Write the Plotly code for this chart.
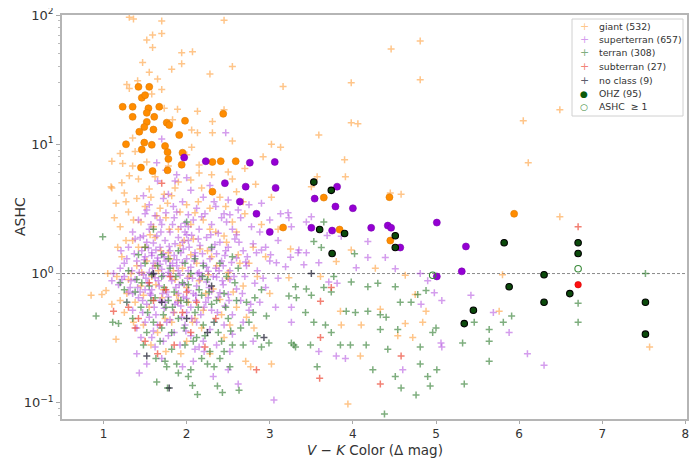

# ASHC vs V-K colour scatter, log y
import plotly.graph_objects as go

# ---- small '+' markers, one list of (V-K, ASHC) per class ----
giant = [
    (1.31, 96), (1.36, 93), (1.70, 90), (2.45, 91), (1.59, 70), (1.70, 72), (1.52, 64), (1.59, 56),
    (1.94, 51), (2.07, 52), (1.47, 43), (1.94, 42), (1.82, 38), (1.55, 36), (2.28, 35), (2.55, 40),
    (1.65, 32), (1.41, 31), (1.28, 29), (1.31, 27), (1.70, 26.5), (3.16, 28), (1.58, 24.5), (1.73, 19),
    (1.89, 18.7), (2.13, 18), (2.45, 18.5), (1.83, 15.5), (2.06, 12.9), (2.31, 15), (2.31, 12.3),
    (1.35, 11.2), (2.13, 12.3), (2.06, 9.5), (2.55, 10.6), (3.02, 10), (3.13, 9.5), (2.92, 8.0),
    (1.10, 7.4), (1.23, 7.1), (1.35, 6.8), (1.52, 7.3), (2.15, 6.9), (1.31, 5.7), (2.15, 6.0),
    (1.22, 5.05), (2.55, 5.4), (2.83, 4.9), (1.09, 4.7), (1.15, 3.5), (1.27, 3.6), (1.73, 4.1),
    (2.14, 3.6), (3.02, 3.9), (1.10, 4.6), (1.13, 2.7),
    (4.46, 54.6), (4.81, 63), (3.98, 29.9), (4.81, 31.5), (3.98, 14.7), (4.06, 14.4), (3.59, 11.8),
    (6.05, 15.2), (6.49, 18.5), (6.11, 7.2), (6.49, 2.75), (7.57, 0.27), (5.76, 0.51), (5.80, 0.98),
    (3.90, 7.6), (3.91, 5.6), (3.57, 5.6), (3.50, 4.7), (4.45, 4.2), (4.58, 4.1),
    (3.98, 1.52), (3.80, 1.24), (3.61, 0.95), (4.63, 0.97), (4.75, 0.69), (3.85, 0.51), (3.86, 0.40),
    (4.10, 0.40), (4.33, 0.53), (4.63, 0.41), (4.84, 0.42), (4.88, 0.51), (4.54, 0.33), (4.72, 0.32),
    (4.09, 0.23), (3.94, 0.098), (4.27, 1.1), (3.23, 0.93), (2.71, 0.21), (2.77, 0.19), (3.02, 0.2),
    (2.81, 0.38), (0.85, 0.68), (0.98, 0.69), (1.03, 0.74), (1.15, 0.31), (1.10, 0.58),
    (1.25, 4.2), (1.40, 3.8), (1.55, 4.5), (1.68, 3.2), (1.82, 4.0), (2.00, 3.4), (2.18, 4.6),
    (2.40, 3.9), (2.60, 4.3), (1.30, 3.0), (1.45, 2.5), (1.60, 2.3), (1.75, 2.7), (1.90, 2.2),
    (2.05, 2.4), (2.20, 2.6), (2.35, 2.1), (2.55, 2.5), (2.70, 2.9), (2.90, 2.4), (1.35, 1.8),
    (1.50, 1.6), (1.62, 1.9), (1.78, 1.45), (1.92, 1.65), (2.08, 1.85), (2.25, 1.5), (2.45, 1.95),
    (2.62, 1.4), (2.80, 1.6), (1.22, 1.35), (1.40, 1.15), (1.52, 1.25), (1.66, 1.05), (1.80, 1.3),
    (1.95, 1.1), (2.12, 1.2), (2.30, 1.35), (2.50, 1.02), (2.75, 1.2), (1.30, 0.9), (1.45, 0.8),
    (1.58, 0.95), (1.72, 0.75), (1.86, 0.9), (2.00, 0.78), (2.15, 0.88), (2.32, 0.76), (2.50, 0.92),
    (2.68, 0.8), (1.38, 0.6), (1.55, 0.55), (1.70, 0.65), (1.85, 0.5), (2.02, 0.6), (2.20, 0.52),
    (2.40, 0.63), (2.60, 0.55), (1.48, 0.4), (1.65, 0.35), (1.82, 0.42), (2.00, 0.3), (2.18, 0.38),
    (2.45, 0.32), (1.75, 0.25), (2.28, 0.24), (1.20, 0.62), (1.28, 0.7), (2.85, 0.95), (3.00, 0.7),
    (1.05, 1.0), (2.60, 2.1), (2.95, 1.35), (3.10, 2.2), (3.25, 1.55), (1.42, 5.4), (1.90, 5.1),
    (2.50, 6.1), (1.20, 8.5), (1.62, 1.15), (1.88, 0.68), (2.26, 0.98), (1.46, 1.02), (2.05, 1.4),
    (1.33, 1.0), (1.42, 1.6), (1.48, 0.68), (1.56, 2.0), (1.63, 0.82), (1.69, 1.5), (1.74, 0.45),
    (1.79, 2.2), (1.84, 1.05), (1.90, 0.62), (1.97, 1.8), (2.03, 0.95), (2.10, 0.45), (2.16, 1.55),
    (2.23, 0.7), (2.28, 2.2), (2.36, 1.15), (2.42, 0.48), (2.48, 1.75), (2.56, 0.72), (2.64, 1.2),
    (2.72, 0.46), (1.27, 1.8), (1.36, 2.6), (1.50, 3.3), (1.64, 2.8), (1.77, 3.5), (1.92, 3.0),
    (2.10, 2.95), (2.28, 3.2), (2.47, 3.3), (2.68, 3.6), (1.20, 2.3), (1.17, 1.6), (1.16, 0.95),
    (1.25, 0.5), (1.36, 0.42), (1.57, 0.28), (1.93, 0.24), (2.07, 0.42), (2.52, 0.4), (1.62, 5.6),
    (1.78, 6.8), (2.05, 5.3), (2.30, 5.8), (1.38, 8.8), (2.00, 8.3), (2.70, 6.5), (1.86, 4.6),
    (1.57, 3.9),
]

superterran = [
    (1.65, 5.2), (1.78, 4.1), (1.95, 3.6), (2.05, 4.4), (2.20, 3.9), (2.35, 3.3), (2.50, 3.7),
    (2.62, 3.1), (1.55, 3.4), (1.88, 3.0), (2.12, 3.2), (2.75, 3.4), (1.72, 3.8), (2.28, 4.8),
    (2.45, 2.9), (1.48, 4.0), (2.90, 3.5),
    (1.42, 2.6), (1.55, 2.2), (1.62, 2.8), (1.70, 2.4), (1.80, 2.1), (1.85, 2.7), (1.93, 2.3),
    (2.00, 2.0), (2.08, 2.6), (2.15, 2.2), (2.22, 2.9), (2.30, 2.4), (2.38, 2.05), (2.48, 2.5),
    (2.55, 2.2), (2.65, 2.7), (2.78, 2.3), (2.88, 2.1), (1.35, 2.1), (1.50, 2.9), (2.02, 2.85),
    (1.98, 2.45), (2.60, 2.0), (3.00, 2.6), (1.75, 2.95), (2.42, 2.7),
    (1.30, 1.6), (1.38, 1.85), (1.46, 1.5), (1.52, 1.75), (1.58, 1.45), (1.64, 1.95), (1.68, 1.6),
    (1.74, 1.8), (1.80, 1.5), (1.86, 1.7), (1.90, 1.9), (1.96, 1.55), (2.02, 1.8), (2.10, 1.45),
    (2.16, 1.65), (2.24, 1.9), (2.30, 1.55), (2.40, 1.75), (2.50, 1.6), (2.58, 1.85), (2.68, 1.5),
    (2.80, 1.7), (2.95, 1.6), (3.10, 1.8), (1.72, 1.42), (2.06, 1.98), (1.48, 1.95), (2.36, 1.42),
    (1.60, 1.72), (1.95, 1.75),
    (1.20, 1.1), (1.28, 1.3), (1.34, 1.05), (1.40, 1.25), (1.45, 1.15), (1.50, 1.35), (1.55, 1.02),
    (1.60, 1.2), (1.65, 1.32), (1.70, 1.08), (1.75, 1.25), (1.80, 1.15), (1.85, 1.38), (1.90, 1.05),
    (1.95, 1.22), (2.00, 1.3), (2.05, 1.12), (2.10, 1.36), (2.15, 1.02), (2.20, 1.2), (2.28, 1.3),
    (2.35, 1.1), (2.42, 1.25), (2.52, 1.05), (2.60, 1.32), (2.72, 1.15), (2.85, 1.05), (3.00, 1.25),
    (1.58, 1.38), (1.78, 1.02), (2.02, 1.05), (2.26, 1.04), (1.43, 1.02), (2.46, 1.38), (1.68, 1.18),
    (1.88, 1.28),
    (1.18, 0.82), (1.25, 0.95), (1.32, 0.78), (1.38, 0.9), (1.44, 0.72), (1.48, 0.98), (1.53, 0.85),
    (1.58, 0.75), (1.62, 0.93), (1.67, 0.8), (1.72, 0.96), (1.76, 0.72), (1.82, 0.88), (1.87, 0.78),
    (1.92, 0.97), (1.97, 0.83), (2.02, 0.74), (2.07, 0.92), (2.12, 0.8), (2.18, 0.96), (2.24, 0.86),
    (2.30, 0.73), (2.36, 0.94), (2.44, 0.82), (2.52, 0.9), (2.60, 0.76), (2.70, 0.95), (2.82, 0.84),
    (2.95, 0.78), (3.10, 0.92), (1.35, 0.7), (1.90, 0.7), (2.40, 0.71), (1.60, 0.99),
    (1.28, 0.6), (1.35, 0.52), (1.42, 0.65), (1.47, 0.5), (1.52, 0.58), (1.57, 0.68), (1.63, 0.48),
    (1.68, 0.62), (1.73, 0.54), (1.78, 0.66), (1.84, 0.5), (1.89, 0.6), (1.94, 0.46), (2.00, 0.64),
    (2.05, 0.55), (2.11, 0.68), (2.17, 0.48), (2.23, 0.6), (2.30, 0.52), (2.38, 0.66), (2.46, 0.56),
    (2.55, 0.48), (2.65, 0.62), (2.75, 0.52), (2.88, 0.6), (1.55, 0.46), (2.00, 0.5), (2.50, 0.69),
    (1.40, 0.38), (1.50, 0.42), (1.58, 0.32), (1.65, 0.4), (1.72, 0.3), (1.80, 0.44), (1.85, 0.35),
    (1.92, 0.28), (1.98, 0.4), (2.05, 0.33), (2.12, 0.42), (2.20, 0.3), (2.28, 0.37), (2.36, 0.28),
    (2.45, 0.4), (2.55, 0.34), (2.68, 0.42), (2.80, 0.3), (1.62, 0.27), (2.10, 0.26),
    (1.52, 0.2), (1.70, 0.22), (1.95, 0.19), (2.08, 0.21), (2.32, 0.16), (2.50, 0.18), (2.62, 0.14),
    (3.05, 0.105), (1.43, 0.17), (1.40, 0.24), (2.21, 0.25), (1.21, 1.5), (1.12, 1.0), (1.10, 0.88),
    (1.70, 11), (2.47, 12.3), (1.88, 5.8), (1.64, 7.2), (1.86, 5.2), (1.75, 6.3), (2.00, 5.5),
    (3.26, 2.3), (3.44, 2.5), (3.50, 2.75), (3.69, 1.97), (3.86, 1.94), (4.18, 1.77), (4.18, 1.33),
    (4.04, 1.11), (4.39, 1.33), (4.51, 1.09), (4.81, 1.0), (4.90, 0.88), (4.98, 0.71), (5.07, 0.62),
    (4.82, 0.58), (5.42, 0.68), (5.69, 0.50), (5.88, 0.35), (5.06, 0.29), (5.07, 0.27), (4.60, 0.18),
    (3.91, 0.22), (3.80, 0.23), (3.59, 0.25), (3.26, 0.42), (3.26, 0.55), (3.71, 0.86), (3.81, 0.84),
    (3.59, 1.21), (3.41, 1.17), (3.35, 1.52), (3.25, 1.34), (6.10, 0.24), (6.30, 0.195), (3.13, 2.9),
    (3.22, 2.95), (3.23, 2.7), (3.34, 1.45), (3.44, 1.45), (3.08, 1.21), (3.19, 1.13), (2.71, 1.23),
    (2.90, 1.52), (3.01, 1.40), (3.07, 0.55),
    (1.33, 0.88), (1.37, 1.42), (1.41, 0.78), (1.44, 1.9), (1.47, 0.62), (1.49, 1.28), (1.51, 0.92),
    (1.54, 1.58), (1.56, 0.7), (1.59, 1.1), (1.61, 0.55), (1.63, 1.52), (1.66, 0.88), (1.69, 2.1),
    (1.71, 0.7), (1.73, 1.35), (1.76, 0.42), (1.79, 1.62), (1.81, 0.95), (1.83, 2.4), (1.86, 0.58),
    (1.88, 1.15), (1.91, 0.82), (1.93, 1.45), (1.96, 0.66), (1.98, 2.1), (2.01, 0.92), (2.03, 1.6),
    (2.06, 0.45), (2.09, 1.25), (2.11, 0.62), (2.14, 1.85), (2.16, 0.9), (2.19, 1.42), (2.21, 0.55),
    (2.24, 1.12), (2.27, 0.78), (2.29, 2.0), (2.32, 0.95), (2.34, 1.68), (2.37, 0.5), (2.39, 1.05),
    (2.43, 0.88), (2.47, 1.5), (2.51, 0.62), (2.54, 1.22), (2.57, 0.95), (2.63, 1.75), (2.67, 0.7),
    (2.73, 1.35), (2.77, 0.58), (2.84, 1.45), (2.92, 0.92), (1.45, 0.32), (1.60, 0.36), (1.78, 0.33),
    (1.99, 0.36), (2.15, 0.27), (2.33, 0.42), (2.52, 0.25), (1.30, 0.72), (1.25, 1.2), (1.22, 0.9),
    (1.52, 3.1), (1.68, 2.6), (1.84, 3.3), (2.02, 2.3), (2.18, 2.75), (2.33, 3.6), (2.52, 2.85),
    (1.74, 0.6), (1.93, 0.56), (2.13, 1.0), (2.26, 0.65), (1.50, 0.75), (1.65, 1.25), (1.83, 1.2),
    (2.08, 0.7), (2.44, 1.15), (1.57, 2.4),
]

terran = [
    (1.30, 1.05), (1.40, 0.9), (1.50, 1.2), (1.55, 0.8), (1.62, 0.65), (1.70, 0.95), (1.75, 0.55),
    (1.80, 1.1), (1.85, 0.72), (1.90, 0.45), (1.95, 0.85), (2.00, 0.6), (2.05, 1.0), (2.10, 0.5),
    (2.15, 0.75), (2.20, 0.4), (2.25, 0.9), (2.30, 0.58), (2.38, 0.35), (2.45, 0.7), (2.50, 0.45),
    (2.58, 0.85), (2.65, 0.38), (2.72, 0.6), (2.80, 0.5), (2.90, 0.75), (1.45, 0.55), (1.60, 0.42),
    (1.68, 0.3), (1.82, 0.35), (1.98, 0.28), (2.12, 0.32), (2.28, 0.25), (2.40, 0.22), (2.55, 0.28),
    (1.35, 0.45), (1.50, 1.6), (1.70, 1.4), (1.90, 1.5), (2.10, 1.3), (2.30, 1.6), (1.60, 2.2),
    (2.00, 2.5), (2.40, 1.2), (1.78, 0.62), (2.18, 0.68), (1.52, 0.35), (2.62, 1.1), (2.85, 0.33),
    (1.25, 0.75), (1.42, 1.4), (2.48, 0.95), (1.88, 0.2), (2.05, 0.18), (1.58, 0.98), (1.72, 0.48),
    (1.64, 0.145), (1.77, 0.13), (1.90, 0.17), (2.02, 0.16), (2.25, 0.2), (2.37, 0.135), (2.43, 0.12),
    (2.63, 0.125), (2.13, 0.116), (2.07, 0.136), (1.76, 0.19), (2.45, 0.25), (2.90, 0.27), (2.99, 0.29),
    (2.96, 0.47), (3.29, 0.28), (3.23, 0.67), (3.32, 0.65), (1.74, 0.21),
    (0.99, 1.93), (0.91, 0.47), (1.11, 0.42), (1.18, 0.41),
    (3.31, 0.79), (3.44, 0.76), (3.50, 0.68), (3.65, 0.78), (3.74, 0.72), (3.98, 0.86), (4.18, 0.79),
    (4.30, 0.84), (4.51, 0.79), (4.57, 0.6), (4.70, 0.6), (4.78, 0.69), (4.88, 0.74), (3.43, 0.50),
    (3.53, 0.42), (3.67, 0.40), (3.74, 0.35), (3.92, 0.51), (4.03, 0.50), (4.18, 0.51), (4.33, 0.48),
    (4.40, 0.46), (4.33, 0.37), (4.54, 0.37), (3.26, 0.29), (3.49, 0.28), (3.85, 0.28), (3.97, 0.28),
    (4.16, 0.28), (4.42, 0.26), (4.81, 0.27), (3.57, 0.19), (4.24, 0.18), (4.51, 0.16), (4.81, 0.2),
    (4.90, 0.16), (5.01, 0.18), (4.58, 0.13), (4.76, 0.115), (4.93, 0.135), (5.34, 0.14), (4.38, 0.082),
    (5.00, 0.38), (4.96, 0.35), (5.32, 0.29), (5.64, 0.37), (5.64, 0.30), (5.64, 0.21), (5.46, 0.42),
    (5.81, 0.42), (5.91, 0.47), (3.31, 0.27), (4.02, 1.42), (3.77, 0.95), (3.62, 1.59), (3.65, 2.5),
    (3.53, 1.77), (6.71, 0.59), (6.71, 0.42), (7.52, 1.0),
    (1.38, 0.72), (1.46, 0.85), (1.53, 0.5), (1.57, 0.62), (1.65, 1.15), (1.70, 0.38), (1.73, 0.78),
    (1.83, 0.55), (1.87, 0.95), (1.93, 0.62), (1.97, 0.38), (2.02, 0.82), (2.08, 0.3), (2.14, 0.55),
    (2.19, 0.95), (2.22, 0.33), (2.27, 0.72), (2.33, 0.42), (2.36, 0.62), (2.42, 0.3), (2.47, 0.55),
    (2.53, 0.36), (2.60, 0.62), (2.68, 0.28), (2.75, 0.42), (2.82, 0.65), (1.48, 0.28), (1.63, 0.22),
    (1.82, 0.26), (2.18, 0.22), (2.33, 0.19), (2.52, 0.19), (1.28, 0.6), (1.20, 0.85), (1.78, 1.3),
    (1.98, 1.2), (2.20, 1.15), (2.55, 1.35),
]

subterran = [
    (1.12, 0.51), (1.30, 0.55), (1.42, 0.45), (1.50, 0.3), (1.60, 0.62), (1.68, 0.4), (1.75, 0.75),
    (1.85, 0.28), (1.95, 0.5), (2.05, 0.35), (2.12, 0.6), (2.22, 0.27), (2.35, 0.45), (1.55, 0.85),
    (1.80, 0.95), (2.84, 0.18), (3.61, 0.32), (3.60, 0.155), (4.33, 0.14), (4.58, 0.23), (3.74, 0.78),
    (3.61, 0.61), (6.71, 2.3), (1.70, 5.0), (1.38, 0.38), (2.00, 0.72), (1.65, 0.24),
]

no_class = [
    (1.79, 0.13), (1.52, 0.23), (2.93, 0.32), (1.70, 0.6), (2.00, 0.45), (2.30, 0.8), (1.60, 1.0),
    (3.50, 1.0), (2.25, 0.35),
]

# ---- OHZ planets (filled circles), coloured by class ----
ohz_giant = [
    (1.42, 27.8), (1.55, 27.8), (1.46, 22.9), (1.50, 24), (1.23, 19.5), (1.35, 19.5), (1.54, 19),
    (1.67, 19.5), (1.52, 17.5), (1.35, 16.3), (1.61, 16.3), (1.52, 14.9), (1.76, 14.7), (1.79, 14.1),
    (1.98, 15.2), (2.44, 17.2), (1.49, 13.6), (1.60, 13), (1.43, 12.5), (1.91, 11.8), (1.27, 10),
    (1.49, 10.3), (1.58, 9.9), (1.46, 9.1), (1.74, 9.7), (1.77, 8.7), (1.95, 8.6), (1.78, 7.7),
    (1.45, 6.6), (1.59, 6.2), (1.77, 6.3), (1.94, 6.95), (2.31, 7.3), (2.41, 7.4), (2.59, 7.4),
    (2.31, 4.3), (3.65, 3.87), (4.44, 3.9), (3.84, 2.19), (4.45, 1.8), (5.94, 2.9), (3.16, 2.27),
]
ohz_superterran = [
    (1.97, 7.9), (2.23, 7.4), (2.76, 7.2), (3.06, 7.3), (2.46, 5.0), (2.71, 4.7), (3.07, 4.6),
    (2.64, 3.6), (2.84, 2.9), (3.00, 2.1), (3.81, 4.7), (3.54, 3.8), (3.79, 3.3), (4.00, 3.2),
    (3.50, 2.26), (3.75, 2.15), (4.22, 2.26), (4.42, 2.35), (4.46, 2.26), (4.57, 1.59), (5.01, 2.48),
    (5.36, 1.62), (5.31, 1.04), (5.01, 0.95),
]
ohz_dark = [
    (3.53, 5.1), (3.74, 4.4), (3.60, 2.19), (3.90, 2.04), (3.75, 1.43), (4.51, 1.96), (4.51, 1.59),
    (5.82, 1.73), (5.88, 0.79), (5.45, 0.52), (5.34, 0.41), (6.71, 1.73), (6.71, 1.43), (6.30, 0.98),
    (6.61, 0.70), (6.30, 0.60), (7.52, 0.60), (7.52, 0.34),
]
ohz_subterran = [(6.71, 0.82)]
ashc_open = [(6.71, 1.09), (4.96, 0.97)]

legend_names = ["giant (532)", "superterran (657)", "terran (308)", "subterran (27)",
                "no class (9)", "OHZ (95)", "ASHC  \u2265 1"]


def xs(pts):
    return [p[0] for p in pts]


def ys(pts):
    return [p[1] for p in pts]


C_GIANT = "rgba(255,150,40,0.55)"
C_SUPER = "rgba(170,60,220,0.5)"
C_TERRAN = "rgba(40,120,40,0.6)"
C_SUB = "rgba(235,60,40,0.65)"
C_NONE = "rgba(20,20,40,0.7)"

# screen box of the axes (the page adds an 8px body margin)
PAGE_OFF = 8
AX_L, AX_R, AX_T, AX_B = 62, 687, 15, 419
plot_w = AX_R - AX_L
plot_h = AX_B - AX_T


def px_x(px):
    return (px - AX_L) / plot_w


def px_y(py):
    return 1 - (py - AX_T) / plot_h


fig = go.Figure()

# plus markers
plus_sets = [(giant, C_GIANT), (superterran, C_SUPER), (terran, C_TERRAN),
             (subterran, C_SUB), (no_class, C_NONE)]
for (pts, col), name in zip(plus_sets, legend_names):
    fig.add_trace(go.Scatter(
        x=xs(pts), y=ys(pts), mode="markers", name=name, showlegend=False,
        marker=dict(symbol="cross-thin", size=5, line=dict(width=1.5, color=col)),
    ))

# OHZ circles
fig.add_trace(go.Scatter(x=xs(ohz_giant), y=ys(ohz_giant), mode="markers", showlegend=False,
                         marker=dict(symbol="circle", size=7, color="#ff8c00",
                                     line=dict(width=0.6, color="#e07a00"))))
fig.add_trace(go.Scatter(x=xs(ohz_superterran), y=ys(ohz_superterran), mode="markers", showlegend=False,
                         marker=dict(symbol="circle", size=7, color="#9400d3",
                                     line=dict(width=0.6, color="#7a00b0"))))
fig.add_trace(go.Scatter(x=xs(ohz_subterran), y=ys(ohz_subterran), mode="markers", showlegend=False,
                         marker=dict(symbol="circle", size=6.5, color="#ff1010",
                                     line=dict(width=0.6, color="#d00000"))))
fig.add_trace(go.Scatter(x=xs(ohz_dark), y=ys(ohz_dark), mode="markers", showlegend=False,
                         marker=dict(symbol="circle", size=6.5, color="#0b4a0b",
                                     line=dict(width=1.1, color="#000000"))))
fig.add_trace(go.Scatter(x=xs(ashc_open), y=ys(ashc_open), mode="markers", showlegend=False,
                         marker=dict(symbol="circle-open", size=6.5, color="#3a8a3a",
                                     line=dict(width=1.1))))

# ASHC = 1 reference line
fig.add_hline(y=1, line=dict(color="#8a8a8a", width=1, dash="3px,2px"), layer="below")

# hand-built legend box (matplotlib-like compact rows)
leg_syms = ["+", "+", "+", "+", "+", "\u25cf", "\u25cb"]
leg_cols = [C_GIANT, C_SUPER, C_TERRAN, C_SUB, C_NONE, "#0b5a0b", "#3a8a3a"]
fig.add_shape(type="rect", xref="paper", yref="paper",
              x0=px_x(572), x1=px_x(683), y0=px_y(116), y1=px_y(19),
              line=dict(color="#d0d0d0", width=1), fillcolor="rgba(255,255,255,0.85)")
for i, (name, sym, col) in enumerate(zip(legend_names, leg_syms, leg_cols)):
    yp = px_y(26 + i * 13.5)
    fig.add_annotation(x=px_x(584), y=yp, xref="paper", yref="paper", text=sym,
                       showarrow=False, xanchor="center", yanchor="middle",
                       font=dict(size=11 if sym == "+" else 9, color=col))
    fig.add_annotation(x=px_x(597), y=yp, xref="paper", yref="paper", text=name,
                       showarrow=False, xanchor="left", yanchor="middle",
                       font=dict(size=9.3, color="#333333"))

# axis titles
fig.add_annotation(x=px_x(20), y=0.5, xref="paper", yref="paper", text="ASHC", textangle=-90,
                   showarrow=False, xanchor="center", yanchor="middle",
                   font=dict(size=14, color="#333333"))
fig.add_annotation(x=0.5, y=px_y(450), xref="paper", yref="paper",
                   text="<i>V</i> \u2212 <i>K</i> Color (\u0394 mag)",
                   showarrow=False, xanchor="center", yanchor="middle",
                   font=dict(size=13.5, color="#333333"))

minor_vals = [k * 10.0 ** e for e in (-2, -1, 0, 1) for k in range(2, 10)]

fig.update_xaxes(
    range=[0.5, 8.02], tickvals=[1, 2, 3, 4, 5, 6, 7, 8], ticks="outside", ticklen=3,
    tickcolor="#aaaaaa", showgrid=False, zeroline=False, automargin=False,
    showline=True, linecolor="#b5b5b5", linewidth=1.5, mirror=True,
    tickfont=dict(size=12, color="#333333"), ticklabeloverflow="allow",
)
fig.update_yaxes(
    type="log", range=[-1.125, 2.0],
    tickvals=[0.1, 1, 10, 100],
    ticktext=["10<sup>\u22121</sup>", "10<sup>0</sup>", "10<sup>1</sup>", "10<sup>2</sup>"],
    ticks="outside", ticklen=4, tickcolor="#aaaaaa", automargin=False, ticklabeloverflow="allow",
    minor=dict(tickvals=minor_vals, ticks="outside", ticklen=2, tickcolor="#bbbbbb", showgrid=False),
    showgrid=False, zeroline=False,
    showline=True, linecolor="#b5b5b5", linewidth=1.5, mirror=True,
    tickfont=dict(size=13, color="#333333"),
)

fig.update_layout(
    width=700, height=467,
    margin=dict(l=AX_L - PAGE_OFF, r=700 - (AX_R - PAGE_OFF), t=AX_T - PAGE_OFF,
                b=467 - (AX_B - PAGE_OFF)),
    paper_bgcolor="white", plot_bgcolor="white",
    font=dict(family="DejaVu Sans", color="#333333"),
    showlegend=False,
)

fig.write_html("out.html")
